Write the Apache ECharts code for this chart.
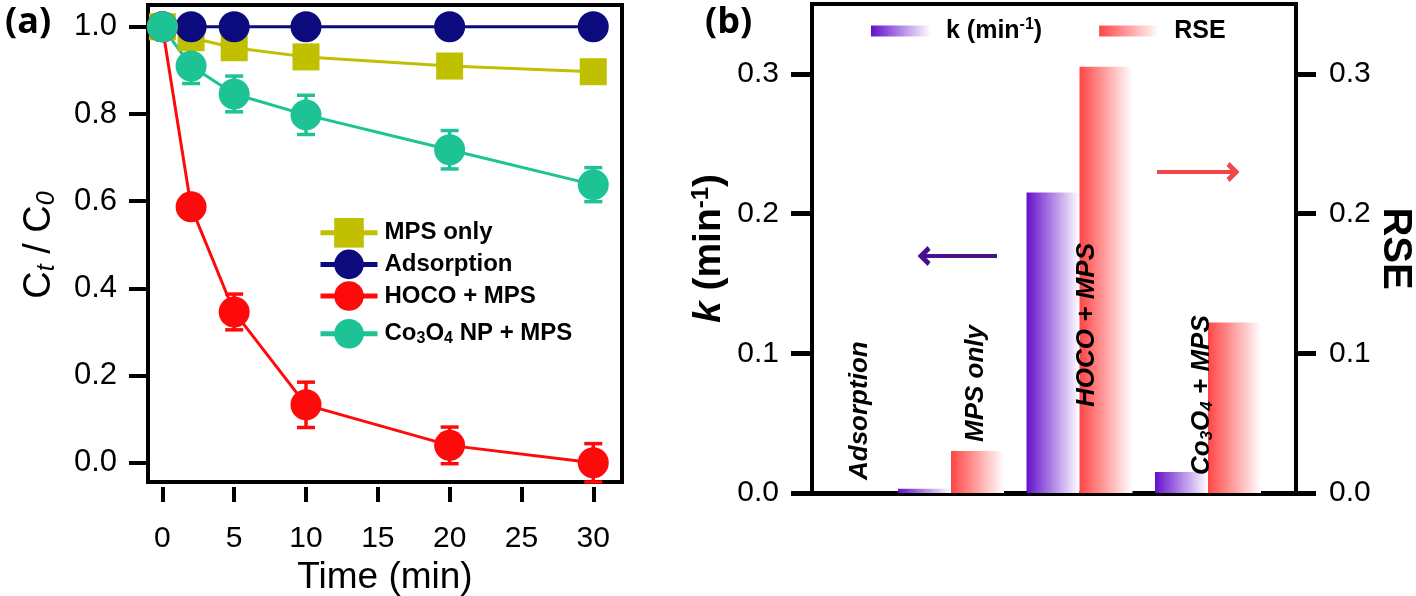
<!DOCTYPE html>
<html><head><meta charset="utf-8">
<script src="https://cdn.jsdelivr.net/npm/echarts@6/dist/echarts.min.js"></script>
<style>html,body{margin:0;padding:0;background:#fff}#c{width:1416px;height:596px}</style>
</head><body><div id="c"></div>
<script>
// ---------- Panel (a) data ----------
const timeMin    = [0, 2, 5, 10, 20, 30];
const mpsOnly    = [1.0, 0.975, 0.952, 0.931, 0.910, 0.897];
const adsorption = [1.0, 1.0, 1.0, 1.0, 1.0, 1.0];
const hocoMps    = [1.0, 0.587, 0.346, 0.133, 0.040, 0.0];
const hocoErr    = [0, 0, 0.041, 0.052, 0.042, 0.044];
const co3o4Mps   = [1.0, 0.910, 0.846, 0.798, 0.718, 0.638];
const co3o4Err   = [0, 0.040, 0.041, 0.045, 0.044, 0.039];
const timeTicks  = [0, 5, 10, 15, 20, 25, 30];
const ratioTicks = [0, 0.2, 0.4, 0.6, 0.8, 1.0];
const seriesNamesA = ['MPS only', 'Adsorption', 'HOCO + MPS', 'Co3O4 NP + MPS'];

// ---------- Panel (b) data ----------
const categories = ['Adsorption', 'MPS only', 'HOCO + MPS', 'Co3O4 + MPS'];
const kValues    = [0, 0.003, 0.215, 0.015];
const rseValues  = [0, 0.030, 0.305, 0.122];
const kTicks     = [0, 0.1, 0.2, 0.3];
// annotation arrows (data coordinates of panel b)
const kArrow   = [[1.79, 0.1697], [2.358, 0.1697]];
const rseArrow = [[3.603, 0.2298], [4.195, 0.2298]];

// ---------- styling ----------
const FF = '"Liberation Sans", Arial, Helvetica, sans-serif';
const C_MPS = '#c0bf00', C_ADS = '#0b0b7e', C_HOCO = '#ff0a0a', C_CO = '#1dc394';
const C_K = '#6410cc', C_RSE = '#ff4545';
const catLabelOffsets = [[37, -13], [25, -51], [7, -86], [-6, -18]];
const catLabelText = ['Adsorption', 'MPS only', 'HOCO + MPS', '{t|Co}{s|3}{t|O}{s|4}{t| + MPS}'];

const pts = arr => timeMin.map((t, i) => [t, arr[i]]);
const errPts = (arr, err) => timeMin.map((t, i) => [t, arr[i], err[i]]);
const catX = categories.map((c, i) => i + 1);

function errRender(color) {
  return function (params, api) {
    const x = api.value(0), y = api.value(1), e = api.value(2);
    if (!e) return null;
    const top = api.coord([x, y + e]), bot = api.coord([x, y - e]);
    const hw = 9;
    const st = { stroke: color, lineWidth: 3.5 };
    return { type: 'group', children: [
      { type: 'line', shape: { x1: top[0], y1: top[1], x2: bot[0], y2: bot[1] }, style: st },
      { type: 'line', shape: { x1: top[0] - hw, y1: top[1], x2: top[0] + hw, y2: top[1] }, style: st },
      { type: 'line', shape: { x1: bot[0] - hw, y1: bot[1], x2: bot[0] + hw, y2: bot[1] }, style: st }
    ]};
  };
}

function lineSeries(name, data, color, symbol, size) {
  return {
    type: 'line', name, data, xAxisIndex: 0, yAxisIndex: 0,
    symbol, symbolSize: size, showSymbol: true, showAllSymbol: true,
    lineStyle: { color, width: 3 }, itemStyle: { color, opacity: 1 },
    z: 3, emphasis: { disabled: true }
  };
}

function grad(c) {
  return new echarts.graphic.LinearGradient(0, 0, 1, 0, [
    { offset: 0, color: c }, { offset: 1, color: '#ffffff' }
  ]);
}

const chevron = 'path://M0,10 L10,0 L20,10 L16,13 L10,7 L4,13 Z';

function arrowSeries(name, pair, color, symbols) {
  return {
    type: 'line', name, xAxisIndex: 1, yAxisIndex: 1, data: [], symbol: 'none', silent: true,
    markLine: {
      silent: true, animation: false, label: { show: false },
      lineStyle: { color, width: 4, type: 'solid' },
      symbol: symbols, symbolSize: [20, 13],
      data: [[{ coord: pair[0] }, { coord: pair[1] }]]
    }
  };
}

const option = {
  animation: false,
  backgroundColor: '#fff',
  title: [
    { text: '(a)', left: 0, top: 0, textStyle: { fontFamily: '"Open Sans", sans-serif', fontWeight: 'bold', fontSize: 36, color: '#000' } },
    { text: '(b)', left: 700, top: 0, textStyle: { fontFamily: '"Open Sans", sans-serif', fontWeight: 'bold', fontSize: 36, color: '#000' } }
  ],
  graphic: [
    {
      type: 'text', x: 40, y: 245, rotation: Math.PI / 2, silent: true,
      style: {
        text: '{c|C}{s|t}{c| / C}{s|0}', align: 'center', verticalAlign: 'middle', fill: '#000',
        fontFamily: FF, fontSize: 38,
        rich: {
          c: { fontFamily: FF, fontSize: 38, fill: '#000', lineHeight: 40 },
          s: { fontFamily: FF, fontSize: 25, fontStyle: 'italic', fill: '#000', lineHeight: 25, padding: [22, 0, 0, 0], verticalAlign: 'bottom' }
        }
      }
    }
  ],
  grid: [
    { left: 148, right: 794, top: 5, bottom: 114, show: true, borderColor: '#000', borderWidth: 4, containLabel: false, outerBoundsMode: 'none' },
    { left: 812, right: 120, top: 4, bottom: 103, show: true, borderColor: '#000', borderWidth: 4, containLabel: false, outerBoundsMode: 'none' }
  ],
  legend: [
    {
      data: seriesNamesA, orient: 'vertical', left: 313, top: 213,
      itemWidth: 57, itemHeight: 37, itemGap: 2,
      lineStyle: { width: 5 },
      formatter: n => n === 'Co3O4 NP + MPS' ? '{b|Co}{s|3}{b|O}{s|4}{b| NP + MPS}' : n,
      textStyle: {
        fontFamily: FF, fontSize: 24, fontWeight: 'bold', color: '#000', padding: [0, 0, 0, 2],
        rich: {
          b: { fontFamily: FF, fontSize: 24, fontWeight: 'bold', color: '#000', lineHeight: 26 },
          s: { fontFamily: FF, fontSize: 16, fontWeight: 'bold', color: '#000', lineHeight: 16, padding: [18, 0, 0, 0], verticalAlign: 'bottom' }
        }
      }
    },
    {
      data: ['k', 'RSE'], orient: 'horizontal', left: 866, top: 12,
      itemWidth: 60, itemHeight: 11, itemGap: 57, icon: 'rect',
      formatter: n => n === 'k' ? '{b|k (min}{p|-1}{b|)}' : n,
      textStyle: {
        fontFamily: FF, fontSize: 25, fontWeight: 'bold', color: '#000', padding: [0, 0, 0, 10],
        rich: {
          b: { fontFamily: FF, fontSize: 25, fontWeight: 'bold', color: '#000', lineHeight: 28 },
          p: { fontFamily: FF, fontSize: 16, fontWeight: 'bold', color: '#000', lineHeight: 16, padding: [0, 0, 14, 0], verticalAlign: 'top' }
        }
      }
    }
  ],
  xAxis: [
    {
      gridIndex: 0, type: 'value', min: -1, max: 32, offset: 5,
      axisLine: { show: false, onZero: false },
      axisTick: { show: true, customValues: timeTicks, length: 15, inside: false, lineStyle: { color: '#000', width: 4 } },
      axisLabel: { customValues: timeTicks, fontFamily: FF, fontSize: 30, color: '#000', margin: 37 },
      splitLine: { show: false },
      name: 'Time (min)', nameLocation: 'middle', nameGap: 62,
      nameTextStyle: { fontFamily: FF, fontSize: 37, color: '#000' }
    },
    {
      gridIndex: 1, type: 'value', min: 0.918, max: 4.685,
      axisLine: { show: true, onZero: false, lineStyle: { color: '#000', width: 5 } },
      axisTick: { show: false }, axisLabel: { show: false }, splitLine: { show: false }
    }
  ],
  yAxis: [
    {
      gridIndex: 0, type: 'value', min: -0.044, max: 1.05,
      axisLine: { show: false, onZero: false },
      axisTick: { show: true, customValues: ratioTicks, length: 19, lineStyle: { color: '#000', width: 4 } },
      axisLabel: { customValues: ratioTicks, formatter: v => v.toFixed(1), fontFamily: FF, fontSize: 31, color: '#000', margin: 31 },
      splitLine: { show: false }
    },
    {
      gridIndex: 1, type: 'value', min: 0, max: 0.35, position: 'left',
      axisLine: { show: false, onZero: false },
      axisTick: { show: true, customValues: kTicks, length: 21, lineStyle: { color: '#000', width: 5 } },
      axisLabel: { customValues: kTicks, formatter: v => v.toFixed(1), fontFamily: FF, fontSize: 30, color: '#000', margin: 33 },
      splitLine: { show: false },
      name: '{ki|k}{n| (min}{p|-1}{n|)}', nameLocation: 'middle', nameGap: 79,
      nameTextStyle: {
        fontFamily: FF, fontSize: 39, fontWeight: 'bold', color: '#000',
        rich: {
          ki: { fontFamily: FF, fontSize: 39, fontWeight: 'bold', fontStyle: 'italic', color: '#000', lineHeight: 40 },
          n: { fontFamily: FF, fontSize: 39, fontWeight: 'bold', color: '#000', lineHeight: 40 },
          p: { fontFamily: FF, fontSize: 24, fontWeight: 'bold', color: '#000', lineHeight: 24, padding: [0, 0, 20, 0], verticalAlign: 'top' }
        }
      }
    },
    {
      gridIndex: 1, type: 'value', min: 0, max: 0.35, position: 'right',
      axisLine: { show: false, onZero: false },
      axisTick: { show: true, customValues: kTicks, length: 20, lineStyle: { color: '#000', width: 5 } },
      axisLabel: { customValues: kTicks, formatter: v => v.toFixed(1), fontFamily: FF, fontSize: 30, color: '#000', margin: 33 },
      splitLine: { show: false },
      name: 'RSE', nameLocation: 'middle', nameGap: 76, nameRotate: -90,
      nameTextStyle: { fontFamily: FF, fontSize: 40, fontWeight: 'bold', color: '#000' }
    }
  ],
  series: [
    { type: 'custom', name: 'errHOCO', xAxisIndex: 0, yAxisIndex: 0, renderItem: errRender(C_HOCO), data: errPts(hocoMps, hocoErr), z: 2, silent: true },
    { type: 'custom', name: 'errCo', xAxisIndex: 0, yAxisIndex: 0, renderItem: errRender(C_CO), data: errPts(co3o4Mps, co3o4Err), z: 2, silent: true },
    lineSeries('MPS only', pts(mpsOnly), C_MPS, 'rect', 27),
    lineSeries('Adsorption', pts(adsorption), C_ADS, 'circle', 31),
    lineSeries('HOCO + MPS', pts(hocoMps), C_HOCO, 'circle', 31),
    lineSeries('Co3O4 NP + MPS', pts(co3o4Mps), C_CO, 'circle', 31),
    {
      type: 'bar', name: 'k', xAxisIndex: 1, yAxisIndex: 1,
      data: catX.map((x, i) => [x, kValues[i]]),
      barWidth: 53, barGap: '0%', itemStyle: { color: grad(C_K) },
      emphasis: { disabled: true }
    },
    {
      type: 'bar', name: 'RSE', xAxisIndex: 1, yAxisIndex: 2,
      data: catX.map((x, i) => [x, rseValues[i]]),
      barWidth: 53, barGap: '0%', itemStyle: { color: grad(C_RSE) },
      emphasis: { disabled: true }
    },
    arrowSeries('kArrow', kArrow, '#4a0f8f', [chevron, 'none']),
    arrowSeries('rseArrow', rseArrow, '#f04848', ['none', chevron]),
    {
      type: 'custom', name: 'catLabels', xAxisIndex: 1, yAxisIndex: 1, silent: true, clip: false, z: 10,
      data: catX.map(x => [x, 0]),
      renderItem: function (params, api) {
        const i = params.dataIndex;
        const p = api.coord([api.value(0), 0]);
        const off = catLabelOffsets[i];
        return {
          type: 'text', x: p[0] + off[0], y: p[1] + off[1], rotation: Math.PI / 2,
          style: {
            text: catLabelText[i], fill: '#000', fontFamily: FF, fontSize: 26, fontWeight: 'bold', fontStyle: 'italic',
            align: 'left', verticalAlign: 'middle',
            rich: {
              t: { fontFamily: FF, fontSize: 26, fontWeight: 'bold', fontStyle: 'italic', lineHeight: 28 },
              s: { fontFamily: FF, fontSize: 17, fontWeight: 'bold', fontStyle: 'italic', lineHeight: 17, padding: [19, 0, 0, 0], verticalAlign: 'bottom' }
            }
          }
        };
      }
    }
  ]
};

const chart = echarts.init(document.getElementById('c'));
chart.setOption(option);
</script>
</body></html>
